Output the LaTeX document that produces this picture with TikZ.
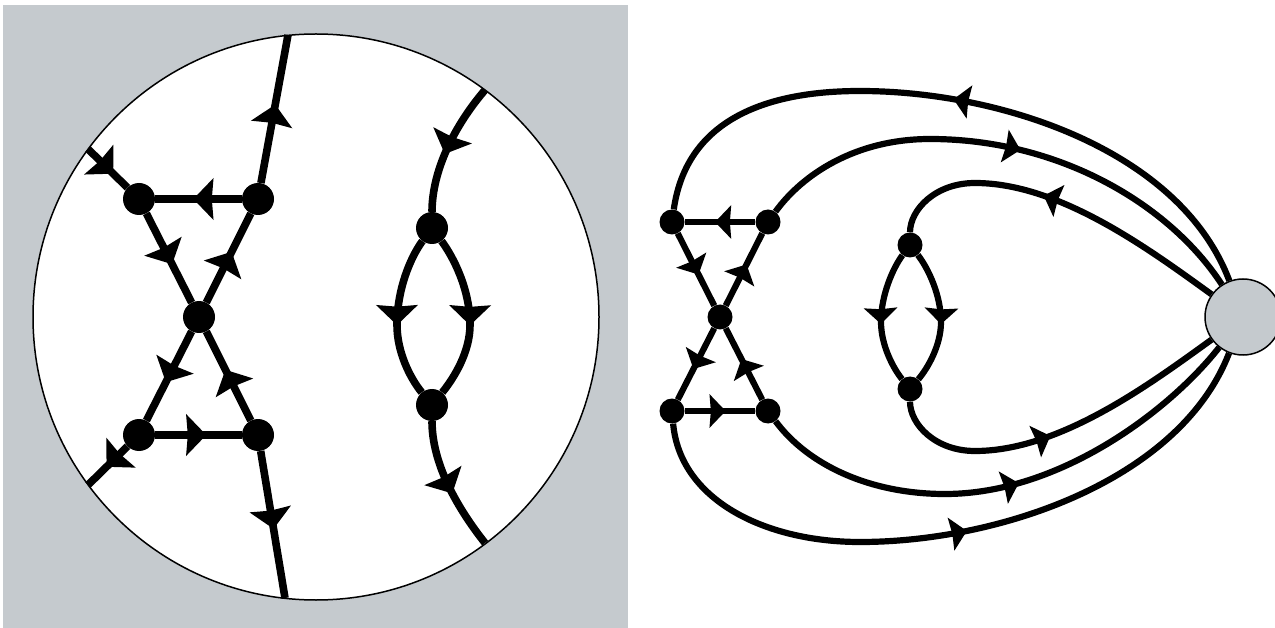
\documentclass[tikz,border=0pt]{standalone}
\usetikzlibrary{arrows.meta,decorations.markings}
\definecolor{panelgrey}{RGB}{197,202,206}
\tikzset{
  bigtip/.tip={Stealth[length=20pt,width=41pt,inset=1.5pt]},
  smalltip/.tip={Stealth[length=16pt,width=33pt,inset=1.2pt]},
  bigat/.style={postaction={decorate},decoration={markings,mark=at position #1 with {\arrow{bigtip}}}},
  smallat/.style={postaction={decorate},decoration={markings,mark=at position #1 with {\arrow{smalltip}}}},
  bigedge/.style={line width=7.6pt,black},
  smalledge/.style={line width=6.2pt,black},
  bigdot/.style={circle,fill=black,inner sep=0pt,minimum size=32pt},
  smalldot/.style={circle,fill=black,inner sep=0pt,minimum size=25pt},
  outline/.style={line width=1.5pt,black}
}
\begin{document}
\begin{tikzpicture}[x=1pt,y=-1pt]
\useasboundingbox (0,0) rectangle (1275,628);
% left panel
\fill[panelgrey] (3,5) rectangle (628,628);
\node[circle,draw,outline,fill=white,inner sep=0pt,minimum size=566pt] (disk) at (316,317) {};
\node[bigdot] (A) at (139,199) {};
\node[bigdot] (B) at (258,199) {};
\node[bigdot] (C) at (199,317) {};
\node[bigdot] (D) at (139,435) {};
\node[bigdot] (E) at (258,435) {};
\node[bigdot] (G) at (432,228) {};
\node[bigdot] (H) at (432,405) {};
\coordinate (ta) at (88,149);
\coordinate (tb) at (288,35);
\coordinate (td) at (88,485);
\coordinate (te) at (285,598);
\coordinate (tg) at (485,90);
\coordinate (th) at (485,543);
\draw[bigedge,bigat=.56] (B) -- (A);
\draw[bigedge,bigat=.57] (A) -- (C);
\draw[bigedge,bigat=.57] (C) -- (B);
\draw[bigedge,bigat=.57] (C) -- (D);
\draw[bigedge,bigat=.57] (E) -- (C);
\draw[bigedge,bigat=.59] (D) -- (E);
\draw[bigedge,bigat=.53] (B) -- (tb);
\draw[bigedge,bigat=.53] (E) -- (te);
\draw[bigedge,bigat=.64] (ta) -- (A);
\draw[bigedge,bigat=.53] (D) -- (td);
\draw[bigedge,bigat=.56] (tg) .. controls (455,125) and (432,170) .. (G);
\draw[bigedge,bigat=.56] (H) .. controls (432,462) and (455,505) .. (th);
\draw[bigedge,bigat=.55] (G) .. controls (410,258) and (397,290) .. (397,325)
   .. controls (397,352) and (410,378) .. (H);
\draw[bigedge,bigat=.55] (G) .. controls (454,258) and (470,290) .. (470,325)
   .. controls (470,352) and (454,378) .. (H);
% right panel
\node[circle,draw,outline,fill=panelgrey,inner sep=0pt,minimum size=76pt] (P) at (1243,317) {};
\node[smalldot] (a) at (672,222) {};
\node[smalldot] (b) at (768,222) {};
\node[smalldot] (c) at (720,317) {};
\node[smalldot] (d) at (672,411) {};
\node[smalldot] (e) at (768,411) {};
\node[smalldot] (g) at (910,245) {};
\node[smalldot] (h) at (910,389) {};
\draw[smalledge,smallat=.57] (b) -- (a);
\draw[smalledge,smallat=.57] (a) -- (c);
\draw[smalledge,smallat=.57] (c) -- (b);
\draw[smalledge,smallat=.57] (c) -- (d);
\draw[smalledge,smallat=.57] (e) -- (c);
\draw[smalledge,smallat=.58] (d) -- (e);
\draw[smalledge,smallat=.55] (g) .. controls (893,268) and (881,295) .. (881,322)
   .. controls (881,345) and (893,368) .. (h);
\draw[smalledge,smallat=.55] (g) .. controls (928,268) and (941,295) .. (941,322)
   .. controls (941,345) and (928,368) .. (h);
\draw[smalledge,smallat=.505] (P) .. controls (1180,150) and (1000,91) .. (860,91)
   .. controls (750,91) and (685,130) .. (a);
\draw[smalledge,smallat=.52] (b) .. controls (802,175) and (855,139) .. (930,139)
   .. controls (1060,139) and (1170,205) .. (P);
\draw[smalledge,smallat=.55] (P) .. controls (1150,250) and (1060,183) .. (975,183)
   .. controls (935,183) and (910,210) .. (g);
\draw[smalledge,smallat=.515] (d) .. controls (680,500) and (765,542) .. (860,542)
   .. controls (1000,542) and (1180,480) .. (P);
\draw[smalledge,smallat=.52] (e) .. controls (808,465) and (870,494) .. (945,494)
   .. controls (1060,494) and (1170,410) .. (P);
\draw[smalledge,smallat=.47] (h) .. controls (910,424) and (935,451) .. (975,451)
   .. controls (1060,451) and (1150,384) .. (P);
\end{tikzpicture}
\end{document}
